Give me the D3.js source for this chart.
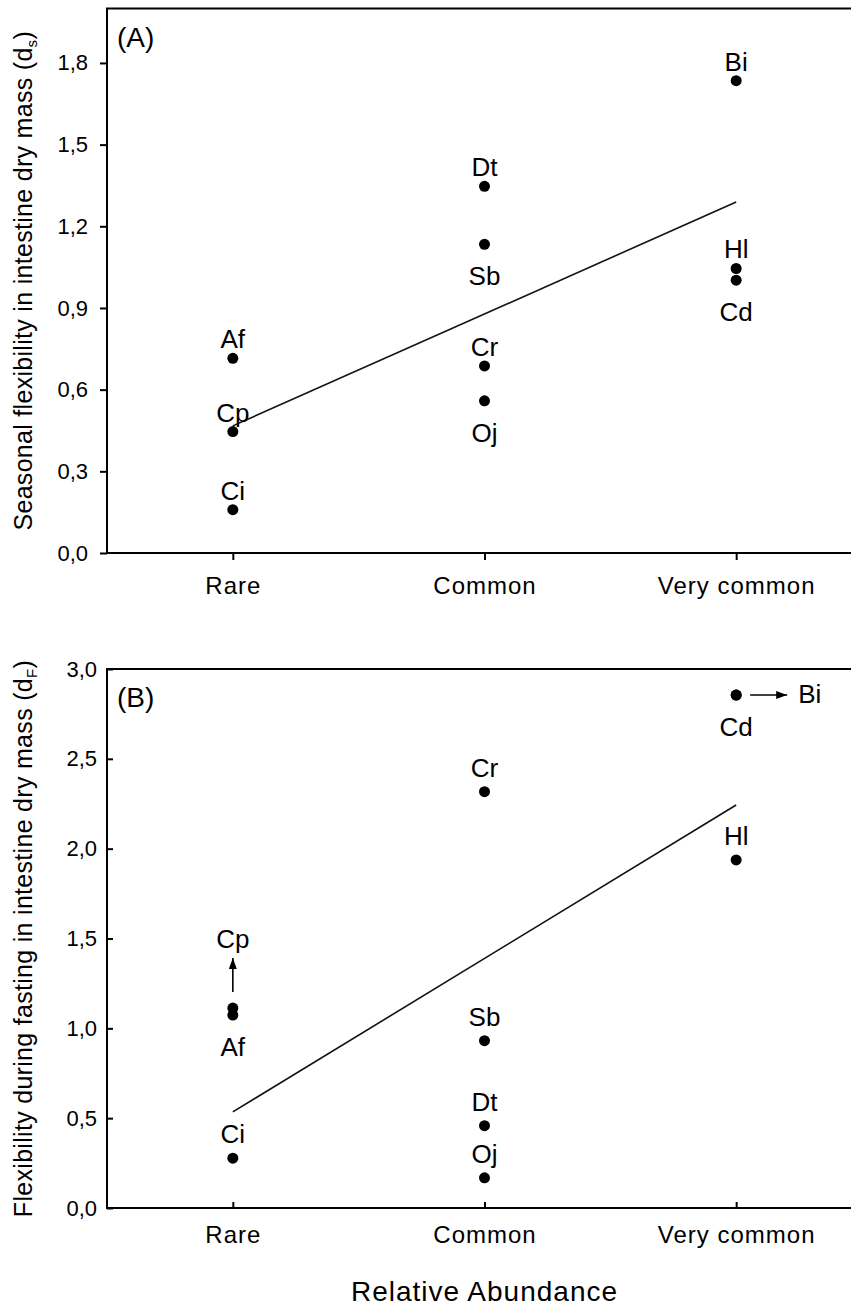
<!DOCTYPE html>
<html>
<head>
<meta charset="utf-8">
<script src="https://cdn.jsdelivr.net/npm/d3@7"></script>
<style>
  body { margin: 0; background: #fff; }
  svg { display: block; font-family: "Liberation Sans", Arial, sans-serif; }
</style>
</head>
<body>
<svg id="chart"></svg>
<script>
// categories on the x axis
const categories = ['Rare', 'Common', 'Very common']

// panel A: seasonal flexibility
const speciesA = ['Af', 'Cp', 'Ci', 'Dt', 'Sb', 'Cr', 'Oj', 'Bi', 'Hl', 'Cd']
const abundanceA = ['Rare', 'Rare', 'Rare', 'Common', 'Common', 'Common', 'Common', 'Very common', 'Very common', 'Very common']
const valuesA = [0.715, 0.446, 0.159, 1.347, 1.134, 0.687, 0.559, 1.735, 1.045, 1.002]
const labelSideA = ['above', 'above', 'above', 'above', 'below', 'above', 'below', 'above', 'above', 'below']
const fitA = [0.467, 1.289]   // regression line at Rare and Very common
const ticksA = [0, 0.3, 0.6, 0.9, 1.2, 1.5, 1.8]

// panel B: flexibility during fasting
const speciesB = ['Cp', 'Af', 'Ci', 'Cr', 'Sb', 'Dt', 'Oj', 'Cd', 'Bi', 'Hl']
const abundanceB = ['Rare', 'Rare', 'Rare', 'Common', 'Common', 'Common', 'Common', 'Very common', 'Very common', 'Very common']
const valuesB = [1.113, 1.074, 0.277, 2.317, 0.931, 0.458, 0.168, 2.855, 2.855, 1.937]
const labelSideB = ['arrowUp', 'below', 'above', 'above', 'above', 'above', 'above', 'below', 'arrowRight', 'above']
const fitB = [0.535, 2.243]
const ticksB = [0, 0.5, 1.0, 1.5, 2.0, 2.5, 3.0]

const width = 851
const height = 1307
const left = 107
const right = 862

const fmt = d3.formatLocale({decimal: ',', thousands: '.', grouping: [3], currency: ['', '']}).format('.1f')

const svg = d3.select('#chart')
    .attr('width', width)
    .attr('height', height)

svg.append('defs').append('marker')
    .attr('id', 'head')
    .attr('markerUnits', 'userSpaceOnUse')
    .attr('markerWidth', 11)
    .attr('markerHeight', 8)
    .attr('refX', 11)
    .attr('refY', 4)
    .attr('orient', 'auto')
    .append('path')
    .attr('d', 'M0,0 L11,4 L0,8 Z')
    .attr('fill', '#000')

const xScale = d3.scalePoint()
    .domain(categories)
    .range([left, right])
    .padding(0.5)

const drawPanel = (p) => {
    const yScale = d3.scaleLinear()
        .domain([0, p.max])
        .range([p.bottom, p.top])

    const g = svg.append('g')

    // frame
    g.append('rect')
        .attr('x', left)
        .attr('y', p.top)
        .attr('width', right - left)
        .attr('height', p.bottom - p.top)
        .attr('fill', 'none')
        .attr('stroke', '#000')
        .attr('stroke-width', 2)

    const yAxis = d3.axisLeft(yScale)
        .tickValues(p.ticks)
        .tickFormat(fmt)
        .tickSizeOuter(0)
        .tickSizeInner(p.inward ? -6 : 7)
        .tickPadding(p.inward ? 10 : 12)
    const xAxis = d3.axisBottom(xScale)
        .tickSizeOuter(0)
        .tickSizeInner(p.inward ? -6 : 7)

    const ya = g.append('g')
        .attr('transform', `translate(${left}, 0)`)
        .call(yAxis)
    const xa = g.append('g')
        .attr('transform', `translate(0, ${p.bottom})`)
        .call(xAxis)

    ya.select('.domain').remove()
    xa.select('.domain').remove()
    ya.selectAll('line').attr('stroke-width', 2)
    xa.selectAll('line').attr('stroke-width', 2)
    ya.selectAll('text')
        .attr('font-size', 22)
        .attr('font-family', '"Liberation Sans", Arial, sans-serif')
        .attr('fill', '#000')
    xa.selectAll('text')
        .attr('font-size', 24)
        .attr('letter-spacing', 1)
        .attr('font-family', '"Liberation Sans", Arial, sans-serif')
        .attr('fill', '#000')
        .attr('y', p.catOffset)
        .attr('dy', 0)

    // regression line
    g.append('line')
        .attr('x1', xScale(categories[0]))
        .attr('y1', yScale(p.fit[0]))
        .attr('x2', xScale(categories[2]))
        .attr('y2', yScale(p.fit[1]))
        .attr('stroke', '#111')
        .attr('stroke-width', 1.6)

    const rows = p.species.map((s, i) => ({
        name: s,
        cat: p.abundance[i],
        value: p.values[i],
        side: p.sides[i]
    }))

    g.selectAll('.dot')
        .data(rows)
        .enter()
        .append('circle')
        .attr('class', 'dot')
        .attr('cx', d => xScale(d.cat))
        .attr('cy', d => yScale(d.value))
        .attr('r', 5.5)
        .attr('fill', '#000')

    g.selectAll('.lab')
        .data(rows)
        .enter()
        .append('text')
        .attr('class', 'lab')
        .attr('font-size', 26)
        .attr('text-anchor', d => d.side === 'arrowRight' ? 'start' : 'middle')
        .attr('x', d => d.side === 'arrowRight' ? xScale(d.cat) + 62 : xScale(d.cat))
        .attr('y', d => {
            const py = yScale(d.value)
            if (d.side === 'above') return py - p.aboveOffset
            if (d.side === 'below') return py + 41
            if (d.side === 'arrowUp') return py - 60
            return py + 8
        })
        .text(d => d.name)

    // arrows pointing to labels of overlapping points
    rows.filter(d => d.side === 'arrowUp').forEach(d => {
        const px = xScale(d.cat), py = yScale(d.value)
        g.append('line')
            .attr('x1', px).attr('y1', py - 16)
            .attr('x2', px).attr('y2', py - 50)
            .attr('stroke', '#000').attr('stroke-width', 1.6)
            .attr('marker-end', 'url(#head)')
    })
    rows.filter(d => d.side === 'arrowRight').forEach(d => {
        const px = xScale(d.cat), py = yScale(d.value)
        g.append('line')
            .attr('x1', px + 14).attr('y1', py)
            .attr('x2', px + 51).attr('y2', py)
            .attr('stroke', '#000').attr('stroke-width', 1.6)
            .attr('marker-end', 'url(#head)')
    })

    // panel tag
    g.append('text')
        .attr('x', left + 10)
        .attr('y', p.top + 38)
        .attr('font-size', 28)
        .text(p.tag)

    // y axis title
    const cy = (p.top + p.bottom) / 2
    const title = g.append('text')
        .attr('transform', `translate(32, ${cy}) rotate(-90)`)
        .attr('text-anchor', 'middle')
        .attr('font-size', 25)
        .attr('letter-spacing', 0.3)
    title.append('tspan').text(p.title + ' (d')
    title.append('tspan').attr('font-size', 15).attr('dy', 5).text(p.sub)
    title.append('tspan').attr('dy', -5).text(')')
}

drawPanel({
    top: 8.5, bottom: 553, max: 2.0, ticks: ticksA, inward: false, catOffset: 41, aboveOffset: 10,
    species: speciesA, abundance: abundanceA, values: valuesA, sides: labelSideA, fit: fitA,
    tag: '(A)', title: 'Seasonal flexibility in intestine dry mass', sub: 's'
})
drawPanel({
    top: 669, bottom: 1208, max: 3.0, ticks: ticksB, inward: true, catOffset: 35, aboveOffset: 15,
    species: speciesB, abundance: abundanceB, values: valuesB, sides: labelSideB, fit: fitB,
    tag: '(B)', title: 'Flexibility during fasting in intestine dry mass', sub: 'F'
})

svg.append('text')
    .attr('x', (left + right) / 2)
    .attr('y', 1301)
    .attr('text-anchor', 'middle')
    .attr('font-size', 28)
    .attr('letter-spacing', 1)
    .text('Relative Abundance')
</script>
</body>
</html>
